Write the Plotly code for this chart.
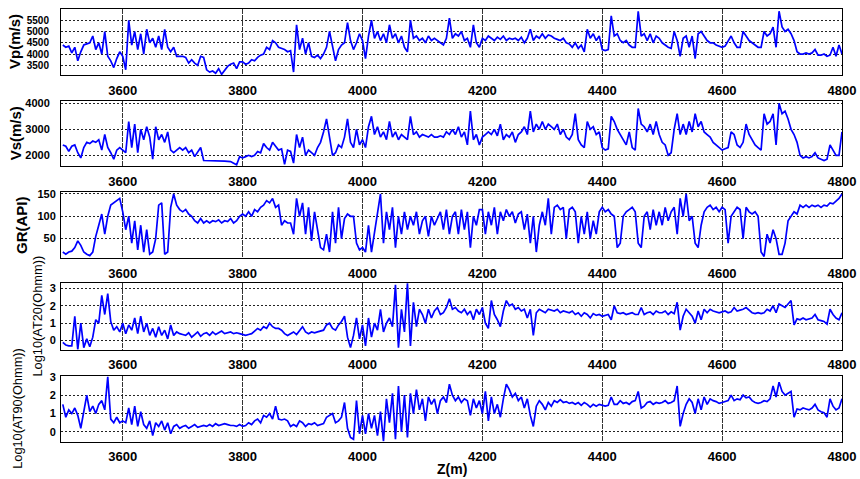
import numpy as np
import plotly.graph_objects as go

# ---------------- data (depth sampled every 5 m) ----------------
depth = np.arange(3500, 4801, 5)

vp_rows = [
    [4400, 4300, 4350, 4050, 4300, 3700, 4100, 4400, 4450, 4500, 4800, 4200, 4500, 4000, 5000, 3900, 3700, 3400, 3800, 4100],
    [3900, 3300, 5500, 4400, 5000, 4200, 4900, 4000, 5100, 4500, 4700, 4300, 4800, 4200, 5100, 4300, 4100, 4300, 3900, 3900],
    [3900, 3850, 3600, 3750, 3600, 3500, 3900, 3850, 3300, 3200, 3250, 3150, 3350, 3100, 3300, 3450, 3550, 3600, 3350, 3650],
    [3650, 3550, 3600, 3750, 3700, 3850, 3950, 4000, 4300, 4200, 4600, 4500, 4300, 4250, 4200, 4100, 4150, 3200, 5300, 4200],
    [4700, 4000, 4500, 3900, 3850, 3950, 3800, 4000, 4300, 5000, 4300, 3700, 4200, 4400, 4500, 5400, 4600, 4200, 4500, 4900],
    [4600, 3800, 4800, 5500, 4700, 5000, 4600, 4900, 4500, 5300, 4700, 4900, 4500, 4800, 4300, 4100, 5500, 4700, 4800, 4600],
    [4700, 4500, 4800, 4600, 4700, 4600, 4500, 4400, 4700, 5600, 4700, 4900, 4800, 5000, 4600, 4700, 4300, 5300, 4500, 4300],
    [4700, 4600, 4800, 4700, 4600, 4750, 4650, 4800, 4600, 4700, 4650, 4700, 4600, 4750, 4500, 4700, 5100, 4600, 4800, 4700],
    [4900, 4700, 4850, 4800, 4700, 4650, 4600, 4700, 4500, 4450, 4300, 4500, 4250, 4400, 4100, 5100, 4700, 4900, 4600, 4800],
    [4200, 4150, 4200, 5700, 4800, 4900, 4600, 4500, 4600, 4400, 4300, 4300, 5900, 4800, 4900, 4600, 4900, 4500, 4800, 4700],
    [4500, 4400, 4300, 4250, 5000, 4600, 3900, 4700, 4800, 4300, 4800, 3800, 4900, 5000, 4800, 4600, 4500, 4500, 4400, 4350],
    [4300, 4350, 4600, 4800, 4500, 4300, 4300, 5000, 4800, 4600, 4500, 4400, 4300, 4300, 5000, 4800, 4900, 5200, 4300, 5900],
    [5200, 5000, 5100, 4900, 4600, 4100, 4000, 4000, 4050, 4000, 4050, 4200, 3950, 3950, 4000, 3900, 3950, 4300, 3900, 4400],
    [4000],
]

vs_rows = [
    [2400, 2350, 2150, 2350, 2400, 2100, 1900, 2300, 2500, 2450, 2550, 2500, 2600, 2200, 2800, 2300, 2100, 1850, 2200, 2300],
    [2200, 2100, 3300, 2300, 3200, 2100, 3000, 2600, 3100, 2700, 1850, 3100, 2600, 2800, 2500, 2900, 2200, 2100, 2200, 2300],
    [2200, 2300, 2100, 2200, 1950, 2150, 2300, 1800, 1800, 1800, 1790, 1790, 1780, 1780, 1780, 1770, 1760, 1700, 1640, 1950],
    [1900, 1950, 2000, 1950, 2000, 2150, 2100, 2450, 2300, 2200, 2500, 2350, 2200, 2250, 1650, 2200, 2150, 1700, 2800, 2300],
    [2700, 2000, 2200, 2100, 2000, 2300, 2500, 2900, 3400, 2700, 2000, 2100, 2400, 2300, 2700, 3400, 2500, 2300, 3000, 2400],
    [2600, 2300, 3100, 3500, 2800, 3100, 2700, 2900, 2600, 3300, 2700, 2900, 2600, 2800, 2700, 2600, 3500, 2800, 2900, 2700],
    [2800, 2750, 2700, 2800, 2700, 2700, 2750, 2700, 2900, 2800, 3000, 2800, 3100, 2700, 2900, 2400, 3700, 2600, 2800, 2400],
    [2700, 2800, 2900, 2800, 3000, 2750, 3200, 2600, 2800, 2700, 2900, 2500, 2800, 2900, 3100, 2800, 3700, 2900, 3200, 3000],
    [3300, 3000, 3200, 3100, 3000, 3200, 2800, 3000, 2700, 2600, 2800, 3600, 2600, 2400, 2300, 3300, 3000, 3100, 2800, 2900],
    [2300, 2200, 2250, 3500, 3300, 3000, 2800, 2600, 2400, 2900, 2300, 2200, 3800, 3200, 3100, 2900, 3200, 2800, 3300, 2800],
    [2500, 2400, 2000, 2100, 3000, 3600, 2800, 3200, 2800, 3300, 2900, 3600, 3100, 3300, 2900, 2800, 2700, 2500, 2400, 2300],
    [2200, 2250, 2300, 2900, 2800, 2400, 2300, 2500, 3200, 2800, 2600, 2400, 2300, 2200, 3600, 3200, 3300, 3600, 2400, 4000],
    [3600, 3700, 3400, 3000, 2800, 2500, 2000, 1900, 1950, 1900, 1950, 2100, 1900, 1850, 1800, 1850, 2400, 2200, 2000, 2000],
    [2900],
]

gr_rows = [
    [20, 15, 20, 22, 30, 45, 35, 20, 15, 12, 20, 55, 80, 105, 60, 100, 125, 130, 135, 140],
    [110, 70, 100, 40, 90, 25, 80, 20, 70, 15, 20, 50, 125, 130, 15, 20, 120, 150, 125, 115],
    [110, 115, 105, 100, 90, 85, 95, 85, 90, 85, 90, 88, 92, 85, 90, 88, 95, 85, 90, 100],
    [105, 100, 110, 100, 115, 110, 120, 125, 135, 130, 140, 120, 125, 80, 90, 85, 85, 60, 140, 100],
    [130, 60, 120, 45, 110, 70, 30, 25, 60, 20, 110, 40, 120, 50, 95, 105, 100, 100, 40, 25],
    [30, 20, 80, 20, 60, 100, 150, 40, 110, 70, 120, 30, 100, 60, 110, 70, 100, 80, 110, 60],
    [90, 100, 55, 100, 80, 95, 110, 70, 115, 60, 100, 110, 60, 115, 70, 110, 30, 100, 80, 115],
    [115, 60, 110, 80, 120, 60, 110, 90, 115, 100, 110, 85, 105, 110, 70, 105, 40, 100, 20, 80],
    [110, 80, 140, 60, 120, 125, 115, 120, 50, 115, 120, 110, 40, 100, 60, 110, 50, 90, 60, 110],
    [120, 110, 115, 105, 100, 30, 40, 100, 110, 115, 120, 110, 40, 30, 100, 110, 70, 115, 80, 110],
    [80, 120, 90, 110, 120, 60, 140, 100, 150, 90, 100, 40, 30, 80, 110, 120, 125, 115, 120, 110],
    [120, 115, 40, 100, 110, 120, 115, 50, 120, 110, 105, 110, 100, 20, 10, 60, 40, 70, 50, 15],
    [15, 40, 90, 100, 110, 105, 125, 120, 125, 120, 125, 122, 125, 120, 125, 123, 130, 128, 135, 140],
    [150],
]

at20_rows = [
    [-0.1, -0.25, -0.3, -0.3, 1.4, -0.5, 1.0, -0.4, 0.1, -0.35, 0.2, 1.2, 1.0, 2.6, 1.5, 2.7, 1.1, 0.6, 0.8, 0.5],
    [1.0, 0.4, 0.9, 0.6, 1.3, 0.4, 1.4, 0.5, 1.0, 0.3, 0.7, 0.2, 0.8, 0.3, 0.6, 0.1, 0.9, 0.3, 0.5, 0.4],
    [0.35, 0.3, 0.45, 0.2, 0.35, 0.5, 0.25, 0.4, 0.45, 0.3, 0.5, 0.35, 0.45, 0.55, 0.4, 0.45, 0.5, 0.4, 0.45, 0.4],
    [0.35, 0.3, 0.35, 0.4, 0.55, 0.7, 0.6, 0.8, 0.7, 1.0, 0.8, 0.7, 0.7, 0.6, 0.4, 0.3, 0.4, 0.5, 0.35, 0.6],
    [0.8, 0.5, 0.4, 0.5, 0.45, 0.5, 0.55, 0.6, 0.9, 1.0, 0.7, 0.6, 0.9, 1.1, 1.4, 0.2, -0.4, 0.3, 1.3, 0.1],
    [0.9, -0.3, 1.3, 0.2, 1.0, 0.6, 1.8, 0.5, 1.0, 1.3, 0.8, 3.2, -0.4, 1.8, 0.5, 3.3, -0.3, 2.2, 0.8, 1.8],
    [1.5, 1.0, 1.8, 1.3, 1.7, 1.9, 1.5, 1.6, 1.9, 2.4, 1.8, 1.9, 1.7, 1.6, 1.8, 1.5, 1.7, 1.2, 1.8, 1.5],
    [1.9, 1.0, 0.7, 2.3, 1.5, 1.2, 0.8, 1.7, 2.3, 2.0, 2.1, 1.8, 1.9, 1.7, 1.8, 1.3, 1.8, 0.3, 1.6, 1.8],
    [1.7, 1.6, 1.8, 1.75, 1.7, 1.8, 1.6, 1.7, 1.65, 1.6, 1.7, 1.5, 1.6, 1.4, 1.6, 1.5, 1.3, 1.55, 1.45, 1.5],
    [1.4, 1.45, 1.5, 1.2, 2.0, 1.6, 1.55, 1.6, 1.5, 1.55, 1.6, 1.5, 1.5, 1.9, 1.5, 1.6, 1.65, 1.5, 1.7, 1.6],
    [1.6, 1.7, 1.5, 1.65, 1.55, 2.2, 0.6, 1.4, 1.8, 1.6, 1.4, 1.0, 1.7, 1.2, 1.8, 1.6, 1.8, 1.7, 1.65, 1.6],
    [1.65, 1.7, 1.6, 1.65, 1.9, 1.7, 1.75, 1.8, 1.9, 1.75, 1.6, 1.55, 1.6, 1.55, 1.6, 1.8, 1.7, 2.0, 1.6, 2.1],
    [2.0, 1.9, 2.1, 2.3, 0.9, 1.25, 1.2, 1.3, 1.2, 1.25, 1.3, 1.5, 1.2, 1.15, 1.1, 0.95, 1.8, 1.5, 1.3, 1.2],
    [1.6],
]

at90_rows = [
    [1.5, 0.8, 1.2, 1.0, 1.3, 0.9, 0.2, 1.0, 2.0, 1.1, 1.4, 1.0, 1.5, 1.7, 1.2, 3.0, 0.7, 0.5, 0.8, 0.5],
    [0.6, 0.5, 1.3, 0.4, 1.4, 0.3, 1.1, 0.4, 0.2, 0.6, -0.2, 0.5, 0.3, 0.6, 0.1, 0.5, -0.1, 0.3, 0.4, 0.2],
    [0.3, 0.35, 0.2, 0.3, 0.4, 0.25, 0.3, 0.35, 0.3, 0.4, 0.3, 0.45, 0.35, 0.4, 0.45, 0.4, 0.35, 0.35, 0.3, 0.4],
    [0.3, 0.35, 0.5, 0.4, 0.6, 0.7, 0.5, 0.9, 0.8, 1.0, 0.7, 1.4, 0.7, 0.65, 0.7, 0.6, 0.3, 0.4, 0.3, 0.6],
    [0.5, 0.3, 0.45, 0.4, 0.5, 0.35, 0.4, 0.45, 0.8, 0.9, 1.0, 0.5, 0.6, 0.8, 1.6, 0.2, -0.3, -0.4, 1.7, -0.1],
    [0.9, -0.1, 1.0, 0.2, 0.9, -0.2, 1.1, -0.5, 1.8, 0.5, 2.1, -0.4, 2.5, 0.0, 2.0, -0.3, 2.1, 1.0, 2.3, 1.2],
    [1.8, 0.6, 1.9, 1.5, 1.8, 1.0, 1.7, 1.9, 1.6, 2.6, 2.0, 1.7, 1.9, 1.6, 1.8, 1.7, 0.9, 1.8, 1.3, 1.7],
    [1.0, 2.2, 0.6, 1.9, 1.0, 1.5, 0.8, 1.8, 2.6, 2.3, 1.9, 2.1, 1.7, 1.9, 1.3, 1.8, 0.9, 0.3, 1.4, 1.7],
    [1.5, 1.2, 1.6, 1.4, 1.7, 1.6, 1.75, 1.6, 1.65, 1.55, 1.6, 1.5, 1.6, 1.45, 1.6, 1.5, 1.35, 1.5, 1.4, 1.5],
    [1.45, 1.4, 1.45, 1.9, 1.5, 1.5, 1.7, 1.55, 1.6, 1.5, 1.65, 1.7, 2.2, 1.3, 1.4, 1.6, 1.65, 1.5, 1.6, 1.55],
    [1.6, 1.7, 1.55, 1.6, 1.7, 2.5, 0.3, 1.0, 1.5, 1.8, 1.6, 1.0, 1.8, 1.2, 1.9, 1.5, 1.8, 1.7, 1.65, 1.55],
    [1.6, 1.65, 1.7, 2.0, 1.7, 1.8, 1.75, 2.0, 1.85, 1.9, 1.7, 1.6, 1.55, 1.6, 1.7, 1.65, 1.8, 2.5, 1.9, 2.7],
    [2.2, 2.0, 2.1, 2.2, 0.8, 1.25, 1.2, 1.3, 1.25, 1.2, 1.3, 1.5, 1.2, 1.1, 1.05, 0.8, 1.8, 1.4, 1.2, 1.3],
    [1.8],
]

def flat(rows):
    out = [v for r in rows for v in r]
    assert len(out) == len(depth), (len(out), len(depth))
    return out

vp = flat(vp_rows)
vs = flat(vs_rows)
gr = flat(gr_rows)
at20 = flat(at20_rows)
at90 = flat(at90_rows)

x_ticks = [3600, 3800, 4000, 4200, 4400, 4600, 4800]
y_titles = ["Vp(m/s)", "Vs(m/s)", "GR(API)", "Log10(AT20(Ohmm))", "Log10(AT90(Ohmm))"]
y_ticks = [[3500, 4000, 4500, 5000, 5500], [2000, 3000, 4000], [50, 100, 150], [0, 1, 2, 3], [0, 1, 2, 3]]
y_ranges = [[3070, 6000], [1590, 4100], [6, 155], [-0.52, 3.29], [-0.53, 3.04]]
series = [vp, vs, gr, at20, at90]

# ---------------- layout geometry (pixels) ----------------
W, H = 860, 479
X0, X1 = 61, 842
panels = [(9, 75), (100.7, 166), (191.7, 258.3), (283.3, 349.7), (376, 441.7)]
title_x = [15, 15, 21, 37, 18]
title_font = [dict(size=15, bold=True)] * 3 + [dict(size=12.8, bold=False)] * 2
ytick_size = [10, 11, 11, 11, 11]
ytick_standoff = [9, 8, 2, 2, 2]

FONT = "Liberation Sans, Arial, sans-serif"

fig = go.Figure()
layout = dict(
    width=W, height=H, margin=dict(l=0, r=0, t=0, b=0),
    paper_bgcolor="white", plot_bgcolor="white", showlegend=False,
    font=dict(family=FONT, color="black"),
)
annotations = []
for i, (top, bot) in enumerate(panels):
    n = "" if i == 0 else str(i + 1)
    fig.add_trace(go.Scatter(
        x=depth, y=series[i], mode="lines",
        line=dict(color="#0000ff", width=1.7),
        xaxis="x" + n, yaxis="y" + n, hoverinfo="skip"))
    common = dict(showline=True, mirror=True, linecolor="black", linewidth=1,
                  showgrid=True, gridwidth=1,
                  zeroline=False, ticks="", automargin=False)
    layout["xaxis" + n] = dict(
        common, domain=[X0 / W, X1 / W], range=[3497, 4800], anchor="y" + n,
        gridcolor="#333333", griddash="5px,1px",
        tickvals=x_ticks, ticktext=[str(t) for t in x_ticks],
        tickfont=dict(size=13, weight="bold", family=FONT, color="black"),
        ticklabelstandoff=3)
    layout["yaxis" + n] = dict(
        common, domain=[1 - bot / H, 1 - top / H], range=y_ranges[i], anchor="x" + n,
        gridcolor="#222222", griddash="2px,2px",
        tickvals=y_ticks[i], ticktext=[str(t) for t in y_ticks[i]],
        tickfont=dict(size=ytick_size[i], weight="bold", family=FONT, color="black"),
        ticklabelstandoff=ytick_standoff[i])
    tf = title_font[i]
    annotations.append(dict(
        text=y_titles[i], xref="paper", yref="paper",
        x=title_x[i] / W, y=1 - ((top + bot) / 2) / H,
        xanchor="center", yanchor="middle", textangle=-90, showarrow=False,
        font=dict(size=tf["size"], weight="bold" if tf["bold"] else "normal",
                  family=FONT, color="black")))

annotations.append(dict(
    text="Z(m)", xref="paper", yref="paper", x=((X0 + X1) / 2) / W, y=1 - 469 / H,
    xanchor="center", yanchor="middle", showarrow=False,
    font=dict(size=14, weight="bold", family=FONT, color="black")))
layout["annotations"] = annotations
fig.update_layout(**layout)
fig.write_html("out.html")
